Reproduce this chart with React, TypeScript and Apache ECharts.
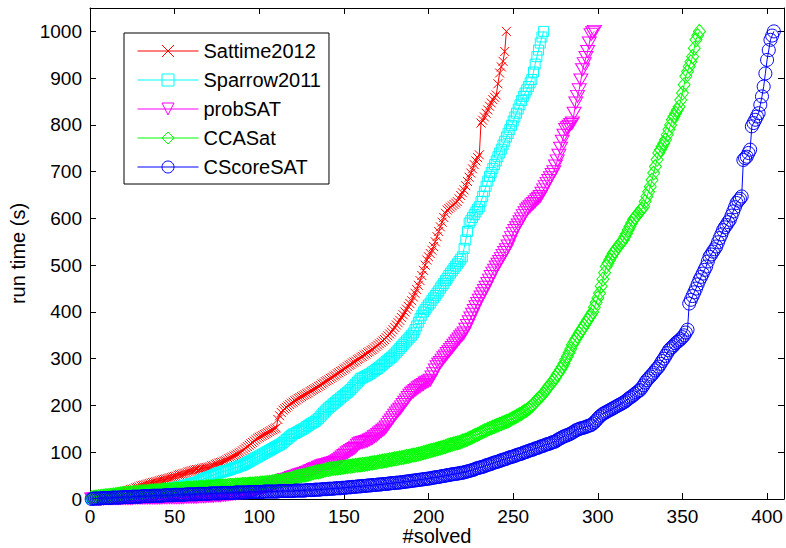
import React, { useEffect, useRef } from 'react';
import * as echarts from 'echarts';

// ---------- data (run time in seconds for the i-th solved instance, i = 1..N) ----------
const seriesNames = ['Sattime2012', 'Sparrow2011', 'probSAT', 'CCASat', 'CScoreSAT'];

const sattime2012 = [
  1,1,2,2,3,3,4,5,5,6,
  7,7,8,9,10,11,12,13,14,15,
  16,17,18,20,21,22,24,25,26,28,
  29,30,31,32,33,34,35,36,37,38,
  39,40,41,42,43,44,45,46,47,48,
  49,51,52,53,54,55,56,58,59,60,
  61,62,63,63,64,65,66,67,67,68,
  69,71,72,74,75,77,78,79,81,82,
  84,86,88,90,92,94,96,98,100,103,
  106,109,112,115,118,121,124,127,130,132,
  134,136,138,140,142,144,146,148,150,152,
  170,178,185,190,193,196,199,202,205,207,
  210,212,215,217,219,221,223,225,227,230,
  232,234,236,238,241,243,246,248,251,253,
  255,258,260,263,265,268,270,273,275,278,
  280,283,286,288,291,293,295,298,300,303,
  305,308,310,313,315,318,320,323,326,329,
  332,335,338,341,345,349,353,357,362,367,
  372,377,382,388,394,400,406,412,418,424,
  432,440,448,457,467,478,489,500,511,518,
  525,532,540,550,561,572,582,592,602,611,
  618,621,624,627,630,633,636,642,649,655,
  661,670,679,688,697,706,715,723,730,736,
  804,810,817,825,832,840,847,854,859,864,
  888,911,924,936,957,1000,
];

const sparrow2011 = [
  0,1,1,1,2,2,2,2,3,3,
  3,3,4,4,4,5,5,5,6,6,
  6,7,7,8,8,9,9,10,10,11,
  11,12,12,13,13,14,15,15,16,17,
  17,18,19,19,20,21,22,22,23,24,
  25,26,27,27,28,29,30,31,32,33,
  34,35,36,37,39,41,43,44,46,47,
  48,50,51,53,54,56,57,58,59,60,
  61,62,63,65,66,67,68,70,71,72,
  74,76,78,80,82,84,86,88,90,92,
  94,96,98,100,102,104,106,108,110,112,
  114,116,118,121,124,127,130,133,136,139,
  140,142,144,146,148,150,152,155,157,160,
  162,164,166,169,172,176,180,184,188,192,
  195,198,201,204,207,210,213,216,219,222,
  225,228,231,234,238,242,246,250,254,258,
  259,261,263,265,267,269,272,274,277,279,
  282,285,288,291,294,297,300,303,306,310,
  314,318,322,326,330,334,338,342,346,350,
  355,362,370,378,386,393,400,405,410,415,
  419,425,430,435,440,445,451,456,461,467,
  472,478,483,488,493,498,503,508,513,518,
  536,554,572,590,596,602,608,614,620,625,
  636,647,658,669,680,690,698,707,715,723,
  732,740,748,757,765,774,782,790,799,808,
  817,825,834,843,852,861,868,875,882,890,
  897,913,930,946,960,975,988,1000,
];

const probSAT = [
  0,0,0,0,0,0,0,0,1,1,
  1,1,1,1,1,1,1,1,1,1,
  1,1,1,1,1,2,2,2,2,2,
  2,2,2,2,2,2,2,2,2,2,
  2,2,3,3,3,3,3,3,3,3,
  3,3,3,3,3,4,4,4,4,4,
  4,4,4,5,5,5,5,5,6,6,
  6,6,6,7,7,7,7,8,8,8,
  9,9,10,10,11,11,12,12,13,14,
  14,15,16,16,17,18,19,20,21,22,
  23,24,25,27,28,29,31,32,34,35,
  36,37,38,40,41,42,43,44,46,47,
  48,49,51,52,53,54,55,57,58,60,
  61,63,65,66,68,69,71,72,73,74,
  75,76,77,78,80,82,84,87,90,93,
  96,99,101,104,106,108,111,115,118,120,
  121,122,123,124,126,128,130,133,135,138,
  141,144,147,150,154,159,164,169,174,179,
  184,188,192,197,202,207,212,217,222,226,
  229,232,235,238,240,243,245,248,250,252,
  254,261,268,276,283,288,292,297,302,306,
  311,315,320,324,329,333,338,342,347,351,
  355,363,371,379,387,395,403,411,418,425,
  432,439,446,453,461,468,476,483,489,496,
  502,508,514,521,527,533,541,550,559,568,
  574,580,586,593,599,606,612,618,622,625,
  629,632,636,640,643,647,654,661,668,675,
  681,687,694,700,712,723,735,750,765,778,
  790,794,797,801,804,825,847,861,875,896,
  918,931,944,957,975,993,997,1000,
];

const ccaSat = [
  3,3,4,4,5,5,6,6,7,7,
  7,8,8,9,9,10,10,11,11,12,
  12,12,13,13,13,14,14,14,15,15,
  15,16,16,16,17,17,17,17,18,18,
  18,18,19,19,19,20,20,20,20,21,
  21,21,21,22,22,22,23,23,23,23,
  24,24,24,24,25,25,25,25,26,26,
  26,26,26,27,27,27,27,28,28,28,
  28,29,29,29,29,30,30,30,30,31,
  31,31,31,32,32,32,32,33,33,33,
  34,34,34,35,35,36,36,37,37,38,
  38,39,39,40,40,41,42,43,44,45,
  46,47,48,49,50,51,51,52,53,54,
  55,56,57,58,58,59,60,61,62,63,
  63,64,65,65,66,66,67,67,68,68,
  69,69,70,70,71,71,72,72,73,73,
  74,74,75,75,76,77,77,78,78,79,
  80,80,81,82,82,83,84,84,85,86,
  86,87,88,88,89,90,91,91,92,93,
  94,94,95,96,97,98,99,100,101,102,
  103,104,105,106,107,108,109,110,111,112,
  114,115,116,117,118,119,120,121,122,124,
  125,126,128,130,131,133,135,137,138,140,
  142,144,146,147,149,151,152,154,155,157,
  158,160,161,163,164,166,167,169,171,173,
  175,177,179,181,183,186,188,190,193,196,
  199,203,207,211,215,218,222,226,231,236,
  241,245,250,254,260,266,271,277,283,290,
  298,305,313,321,330,336,342,348,354,360,
  365,371,377,383,388,394,400,410,420,430,
  440,455,470,484,497,504,511,518,525,530,
  535,540,545,549,554,561,568,576,583,590,
  597,602,606,611,616,620,625,636,647,657,
  668,682,697,711,726,740,747,754,761,768,
  779,790,800,811,818,825,832,839,853,868,
  886,904,914,925,935,946,964,982,991,1000,
];

const cScoreSAT = [
  0,1,1,1,1,1,2,2,2,2,
  2,2,3,3,3,3,3,3,4,4,
  4,4,4,4,5,5,5,5,5,5,
  6,6,6,6,6,6,7,7,7,7,
  7,7,7,8,8,8,8,8,8,9,
  9,9,9,9,9,9,10,10,10,10,
  10,10,10,11,11,11,11,11,11,11,
  12,12,12,12,12,12,12,13,13,13,
  13,13,13,13,13,14,14,14,14,14,
  14,14,14,15,15,15,15,15,15,15,
  15,15,16,16,16,16,16,16,16,16,
  16,17,17,17,17,17,17,17,17,17,
  18,18,18,18,18,18,18,19,19,19,
  19,19,20,20,20,20,21,21,21,21,
  22,22,22,22,23,23,23,23,24,24,
  24,25,25,25,26,26,26,27,27,27,
  28,28,28,29,29,29,30,30,30,31,
  31,31,32,32,32,33,33,34,34,34,
  35,35,35,36,36,37,37,38,38,39,
  39,40,40,41,41,42,42,43,43,44,
  44,45,46,46,47,47,48,49,49,50,
  51,51,52,53,53,54,54,55,56,56,
  57,58,59,60,61,62,63,65,66,67,
  68,69,70,72,73,74,75,77,78,79,
  80,81,83,84,85,86,88,89,90,91,
  92,94,95,96,97,99,100,101,103,104,
  105,106,108,109,110,112,113,114,116,117,
  118,119,121,122,123,126,128,130,132,134,
  135,137,138,140,142,144,147,148,150,151,
  152,153,154,156,157,158,161,164,168,172,
  176,179,182,184,186,188,190,192,194,196,
  198,200,202,204,206,208,211,214,217,219,
  222,225,228,231,233,238,243,249,254,258,
  262,266,270,275,279,283,289,295,300,306,
  312,318,322,325,329,333,336,339,342,346,
  350,356,362,418,426,434,442,450,459,468,
  475,482,490,497,508,518,523,529,534,540,
  549,558,566,575,581,586,592,597,606,615,
  624,633,638,642,647,725,729,732,740,747,
  797,804,811,818,825,843,861,882,910,939,
  960,982,991,1000,
];

const xTickLabels = [0, 50, 100, 150, 200, 250, 300, 350, 400];
const yTickLabels = [0, 100, 200, 300, 400, 500, 600, 700, 800, 900, 1000];

// ---------- styles ----------
const FONT = '"Liberation Sans", Arial, Helvetica, sans-serif';
const colors = ['#ff0000', '#00ffff', '#ff00ff', '#00ff00', '#0000ff'];
const symbols = [
  'path://M0,0L10,10M10,0L0,10',
  'rect',
  'triangle',
  'diamond',
  'circle',
];
const symbolSizes: any[] = [9, 10, [14, 12], [12, 14], 13];
const symbolRotates = [0, 0, 180, 0, 0];

export default function App() {
  const ref = useRef<HTMLDivElement>(null);

  useEffect(() => {
    if (!ref.current) return;
    const chart = echarts.init(ref.current, null, { renderer: 'svg' });
    const allData = [sattime2012, sparrow2011, probSAT, ccaSat, cScoreSAT];

    const axisCommon = {
      type: 'value' as const,
      splitLine: { show: false },
      axisLine: { show: true, onZero: false, lineStyle: { color: '#000', width: 1 } },
      axisTick: { show: true, inside: true, length: 6, lineStyle: { color: '#000', width: 1 } },
    };

    const option: any = {
      animation: false,
      backgroundColor: '#ffffff',
      textStyle: { fontFamily: FONT },
      grid: { left: 90, right: 2, top: 8, bottom: 49, containLabel: false, outerBoundsMode: 'none' },
      legend: {
        data: seriesNames,
        orient: 'vertical',
        left: 124,
        top: 33,
        padding: [8, 8, 7, 13],
        itemGap: 9,
        itemWidth: 61,
        itemHeight: 15,
        selectedMode: false,
        backgroundColor: '#ffffff',
        borderColor: '#000000',
        borderWidth: 1,
        borderRadius: 0,
        itemStyle: { borderWidth: 1 },
        lineStyle: { width: 1 },
        textStyle: { fontFamily: FONT, fontSize: 20, color: '#000', lineHeight: 20 },
      },
      xAxis: [
        {
          ...axisCommon,
          min: 0,
          max: 410,
          interval: 50,
          position: 'bottom',
          name: '#solved',
          nameLocation: 'middle',
          nameGap: 27,
          nameMoveOverlap: false,
          nameTextStyle: { fontFamily: FONT, fontSize: 20, color: '#000', lineHeight: 20 },
          axisLabel: {
            fontFamily: FONT,
            fontSize: 19,
            color: '#000',
            margin: 8,
            formatter: (v: number) => (xTickLabels.includes(v) ? String(v) : ''),
          },
        },
        {
          ...axisCommon,
          min: 0,
          max: 410,
          interval: 50,
          position: 'top',
          axisLabel: { show: false },
        },
      ],
      yAxis: [
        {
          ...axisCommon,
          min: 0,
          max: 1050,
          interval: 100,
          position: 'left',
          name: 'run time (s)',
          nameLocation: 'middle',
          nameGap: 62,
          nameMoveOverlap: false,
          nameTextStyle: { fontFamily: FONT, fontSize: 20, color: '#000' },
          axisLabel: {
            fontFamily: FONT,
            fontSize: 19,
            color: '#000',
            margin: 8,
            formatter: (v: number) => (yTickLabels.includes(v) ? String(v) : ''),
          },
        },
        {
          ...axisCommon,
          min: 0,
          max: 1050,
          interval: 100,
          position: 'right',
          axisLabel: { show: false },
        },
      ],
      series: seriesNames.map((name, k) => ({
        name,
        type: 'line',
        xAxisIndex: 0,
        yAxisIndex: 0,
        data: allData[k].map((v, i) => [i + 1, v]),
        symbol: symbols[k],
        symbolSize: symbolSizes[k],
        symbolRotate: symbolRotates[k],
        showSymbol: true,
        showAllSymbol: true,
        silent: true,
        lineStyle: { color: colors[k], width: 1 },
        itemStyle: { color: 'rgba(0,0,0,0)', borderColor: colors[k], borderWidth: 1 },
        emphasis: { disabled: true },
        z: 2 + k,
      })),
    };

    chart.setOption(option);
    return () => {
      chart.dispose();
    };
  }, []);

  return (
    <div
      ref={ref}
      style={{ position: 'fixed', left: 0, top: 0, width: 786, height: 548, background: '#fff' }}
    />
  );
}
